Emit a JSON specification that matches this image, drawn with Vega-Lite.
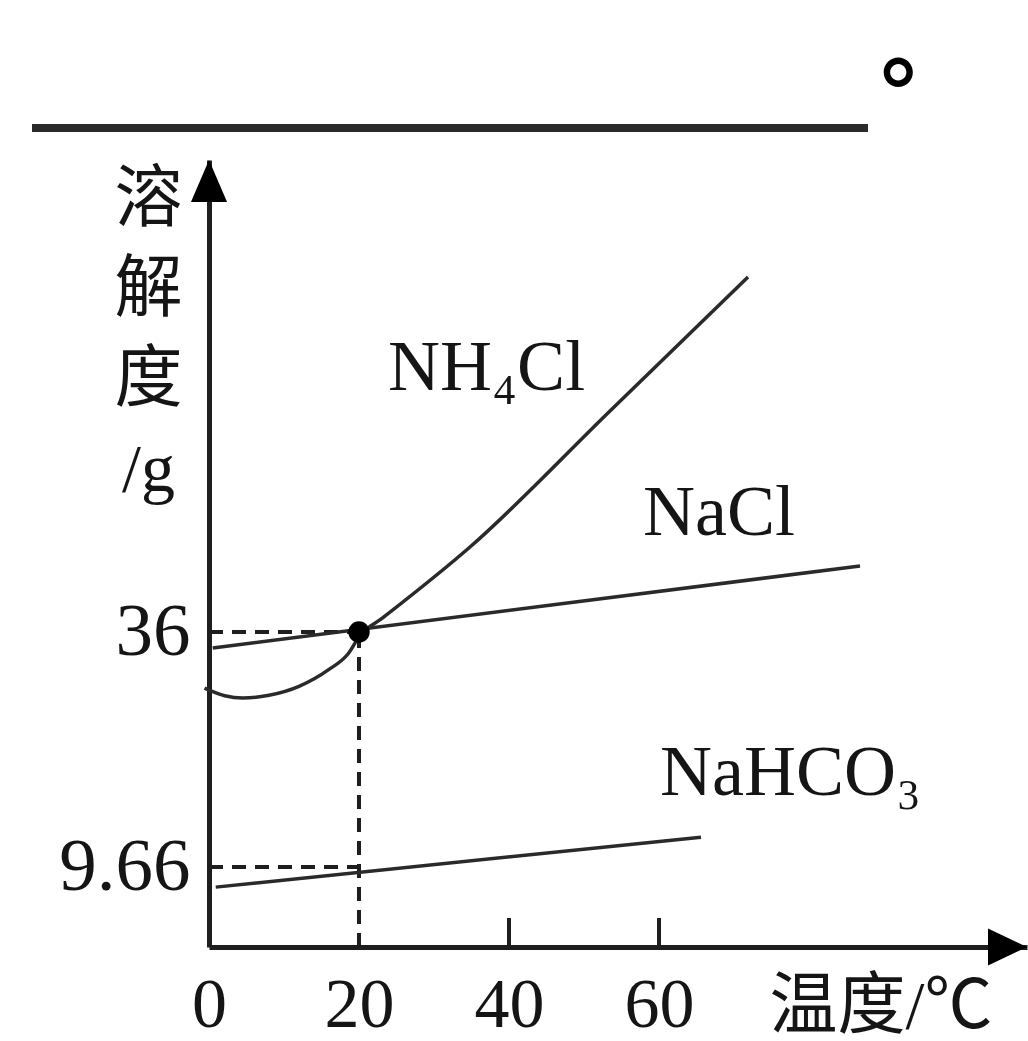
{
  "$schema": "https://vega.github.io/schema/vega-lite/v6.json",
  "width": 818,
  "height": 787,
  "autosize": {"type": "none"},
  "padding": {"left": 209, "top": 160, "right": 1, "bottom": 94},
  "background": "white",
  "config": {"view": {"stroke": null}},
  "datasets": {
    "curves": [
      {"s": "NaCl", "t": 0.5, "v": 34.2},
      {"s": "NaCl", "t": 86.8, "v": 43.4},
      {"s": "NaHCO3", "t": 0.9, "v": 7.4},
      {"s": "NaHCO3", "t": 65.6, "v": 13.0},
      {"s": "NH4Cl", "t": -0.6, "v": 29.7},
      {"s": "NH4Cl", "t": 2.1, "v": 28.85},
      {"s": "NH4Cl", "t": 4.5, "v": 28.6},
      {"s": "NH4Cl", "t": 8, "v": 28.9},
      {"s": "NH4Cl", "t": 12, "v": 29.9},
      {"s": "NH4Cl", "t": 16, "v": 31.8},
      {"s": "NH4Cl", "t": 18.5, "v": 33.5},
      {"s": "NH4Cl", "t": 20.13, "v": 35.6},
      {"s": "NH4Cl", "t": 23.2, "v": 37.6},
      {"s": "NH4Cl", "t": 34.8, "v": 45.52},
      {"s": "NH4Cl", "t": 53.33, "v": 60.65},
      {"s": "NH4Cl", "t": 71.87, "v": 75.79}
    ],
    "guides": [
      {"t": 0, "v": 36, "t2": 20, "v2": 36},
      {"t": 20, "v": 0.69, "t2": 20, "v2": 36},
      {"t": 0, "v": 9.66, "t2": 20, "v2": 9.66}
    ],
    "ticks": [
      {"t": 40, "v": 0.69, "v2": 3.94},
      {"t": 60, "v": 0.69, "v2": 3.94}
    ],
    "point": [{"t": 20, "v": 36}],
    "labels": [
      {"label": "NH₄Cl", "t": 23.87, "v": 63.12},
      {"label": "NaCl", "t": 57.87, "v": 46.87},
      {"label": "NaHCO₃", "t": 60.13, "v": 17.73}
    ],
    "arrowUp": [{"t": 0, "v": 88.9}],
    "arrowRight": [{"t": 109.07, "v": 0.69}],
    "blank": [{"t": -23.6, "t2": 87.87, "v": 92.49}],
    "stop": [{"label": "。", "t": 91.87, "v": 97.95}]
  },
  "encoding": {
    "x": {
      "field": "t",
      "type": "quantitative",
      "scale": {"domain": [0, 109.07], "nice": false, "zero": false},
      "axis": {
        "values": [0, 20, 40, 60],
        "format": "d",
        "grid": false,
        "ticks": false,
        "domainWidth": 5,
        "domainColor": "#1e1e1e",
        "labelFont": "Liberation Serif",
        "labelFontSize": 70,
        "labelColor": "#151515",
        "labelPadding": 24,
        "labelFlush": false,
        "labelOverlap": false,
        "title": "温度/℃",
        "titleFont": "'Liberation Serif', 'Noto Sans CJK SC'",
        "titleFontSize": 68,
        "titleFontWeight": "normal",
        "titleColor": "#151515",
        "titleAlign": "left",
        "titleBaseline": "top",
        "titleX": 560,
        "titleY": 26
      }
    },
    "y": {
      "field": "v",
      "type": "quantitative",
      "scale": {"domain": [0.69, 88.9], "nice": false, "zero": false},
      "axis": {
        "values": [9.66, 36],
        "format": ".3~r",
        "grid": false,
        "ticks": false,
        "domainWidth": 5,
        "domainColor": "#1e1e1e",
        "labelFont": "Liberation Serif",
        "labelFontSize": 75,
        "labelColor": "#151515",
        "labelPadding": 19,
        "labelBaseline": "middle",
        "labelFlush": false,
        "labelOverlap": false,
        "title": ["溶", "解", "度", "/g"],
        "titleFont": "'Liberation Serif', 'Noto Sans CJK SC'",
        "titleFontSize": 68,
        "titleFontWeight": "normal",
        "titleColor": "#151515",
        "titleAngle": 0,
        "titleAlign": "center",
        "titleBaseline": "top",
        "titleLineHeight": 90,
        "titleX": -61,
        "titleY": 6
      }
    }
  },
  "layer": [
    {
      "data": {"name": "guides"},
      "mark": {"type": "rule", "strokeDash": [14, 9], "strokeWidth": 4, "color": "#1e1e1e"},
      "encoding": {"x2": {"field": "t2"}, "y2": {"field": "v2"}}
    },
    {
      "data": {"name": "ticks"},
      "mark": {"type": "rule", "strokeWidth": 4, "color": "#1e1e1e"},
      "encoding": {"y2": {"field": "v2"}}
    },
    {
      "data": {"name": "curves"},
      "mark": {"type": "line", "interpolate": "monotone", "strokeWidth": 3.5, "color": "#2a2a2a"},
      "encoding": {"detail": {"field": "s"}}
    },
    {
      "data": {"name": "point"},
      "mark": {"type": "point", "shape": "circle", "filled": true, "size": 460, "color": "#000000", "opacity": 1}
    },
    {
      "data": {"name": "labels"},
      "mark": {"type": "text", "font": "Liberation Serif", "fontSize": 72, "align": "left", "baseline": "alphabetic", "color": "#151515"},
      "encoding": {"text": {"field": "label"}}
    },
    {
      "data": {"name": "arrowUp"},
      "mark": {"type": "point", "shape": "M0,0L-0.86,2L0.86,2Z", "size": 1764, "filled": true, "color": "#000000", "opacity": 1}
    },
    {
      "data": {"name": "arrowRight"},
      "mark": {"type": "point", "shape": "M0,0L-2,-0.95L-2,0.95Z", "size": 1521, "filled": true, "color": "#000000", "opacity": 1}
    },
    {
      "data": {"name": "blank"},
      "mark": {"type": "rule", "strokeWidth": 8, "color": "#2a2a2a"},
      "encoding": {"x2": {"field": "t2"}}
    },
    {
      "data": {"name": "stop"},
      "mark": {"type": "text", "font": "Noto Sans CJK TC", "fontSize": 90, "fontWeight": "bold", "align": "center", "baseline": "middle", "color": "#000000"},
      "encoding": {"text": {"field": "label"}}
    }
  ]
}
